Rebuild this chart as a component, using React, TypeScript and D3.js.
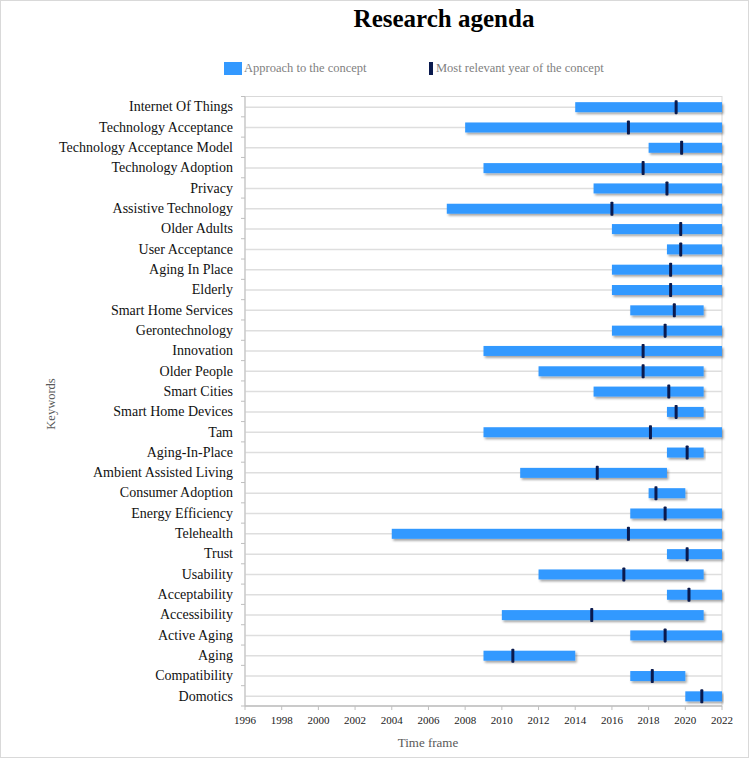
import React from "react";
import * as d3 from "d3";

const keywords = [
  "Internet Of Things", "Technology Acceptance", "Technology Acceptance Model", "Technology Adoption",
  "Privacy", "Assistive Technology", "Older Adults", "User Acceptance", "Aging In Place", "Elderly",
  "Smart Home Services", "Gerontechnology", "Innovation", "Older People", "Smart Cities",
  "Smart Home Devices", "Tam", "Aging-In-Place", "Ambient Assisted Living", "Consumer Adoption",
  "Energy Efficiency", "Telehealth", "Trust", "Usability", "Acceptability", "Accessibility",
  "Active Aging", "Aging", "Compatibility", "Domotics",
];
const startYears = [2014, 2008, 2018, 2009, 2015, 2007, 2016, 2019, 2016, 2016, 2017, 2016, 2009, 2012, 2015, 2019, 2009, 2019, 2011, 2018, 2017, 2004, 2019, 2012, 2019, 2010, 2017, 2009, 2017, 2020];
const endYears = [2022, 2022, 2022, 2022, 2022, 2022, 2022, 2022, 2022, 2022, 2021, 2022, 2022, 2021, 2021, 2021, 2022, 2021, 2019, 2020, 2022, 2022, 2022, 2021, 2022, 2021, 2022, 2014, 2020, 2022];
const relevantYears = [2019.5, 2016.9, 2019.8, 2017.7, 2019.0, 2016.0, 2019.75, 2019.75, 2019.2, 2019.2, 2019.4, 2018.9, 2017.7, 2017.7, 2019.1, 2019.5, 2018.1, 2020.1, 2015.2, 2018.4, 2018.9, 2016.9, 2020.1, 2016.65, 2020.2, 2014.9, 2018.9, 2010.6, 2018.2, 2020.9];
const xTicks = d3.range(1996, 2023, 2);

const W = 750, H = 760;
const M = { left: 245, right: 722, top: 96.5, bottom: 706 };
const SERIF = "'Liberation Serif', 'Times New Roman', serif";

export default function App() {
  const x = d3.scaleLinear().domain([1996, 2022]).range([M.left, M.right]);
  const y = d3.scaleBand<string>().domain(keywords).range([M.top, M.bottom]);
  const bw = y.bandwidth();
  const barH = 10;
  const markH = 14;

  return (
    <svg width={W} height={H} style={{ position: "absolute", left: 0, top: 0, background: "#fff" }} fontFamily={SERIF}>
      <defs>
        <filter id="sh" x="-5%" y="-50%" width="110%" height="220%">
          <feDropShadow dx="1.5" dy="2" stdDeviation="1" floodColor="#000" floodOpacity="0.35" />
        </filter>
      </defs>
      <rect x={0.5} y={0.5} width={W - 2} height={H - 3} fill="#fff" stroke="#d9d9d9" />
      <text x={444} y={27} textAnchor="middle" fontSize={25} fontWeight="bold" fill="#000">Research agenda</text>

      {/* legend */}
      <rect x={224} y={62} width={18} height={13} fill="#3399ff" />
      <text x={244} y={72} fontSize={12.5} fill="#7f7f7f">Approach to the concept</text>
      <rect x={429} y={62} width={4} height={13} fill="#0a1a4e" />
      <text x={436} y={72} fontSize={12.5} fill="#7f7f7f">Most relevant year of the concept</text>

      {/* frame */}
      <rect x={M.left} y={M.top} width={M.right - M.left} height={M.bottom - M.top} fill="none" stroke="#d9d9d9" strokeWidth={1} />

      {/* gridlines */}
      {keywords.map((k) => (
        <line key={"g" + k} x1={M.left} x2={M.right} y1={y(k)! + bw / 2 + 0.5} y2={y(k)! + bw / 2 + 0.5} stroke="#dedede" strokeWidth={1.5} />
      ))}

      {/* y ticks */}
      {d3.range(keywords.length + 1).map((i) => {
        const yy = M.top + i * bw;
        return <line key={"yt" + i} x1={M.left - 4} x2={M.left} y1={yy} y2={yy} stroke="#bfbfbf" />;
      })}
      {/* axes */}
      <line x1={M.left} x2={M.left} y1={M.top} y2={M.bottom} stroke="#bfbfbf" />
      <line x1={M.left} x2={M.right} y1={M.bottom} y2={M.bottom} stroke="#bfbfbf" strokeWidth={1.5} />
      {xTicks.map((t) => (
        <g key={"xt" + t}>
          <line x1={x(t)} x2={x(t)} y1={M.bottom} y2={M.bottom + 4} stroke="#bfbfbf" />
          <text x={x(t)} y={M.bottom + 18} textAnchor="middle" fontSize={11} fill="#222">{t}</text>
        </g>
      ))}

      {/* bars */}
      {keywords.map((k, i) => (
        <rect key={"b" + k} x={x(startYears[i])} y={y(k)! + bw / 2 - barH / 2 + 0.5} width={x(endYears[i]) - x(startYears[i])} height={barH} fill="#3399ff" filter="url(#sh)" />
      ))}
      {/* markers */}
      {keywords.map((k, i) => (
        <rect key={"m" + k} x={x(relevantYears[i]) - 1.5} y={y(k)! + bw / 2 - markH / 2 + 0.5} width={3} height={markH} fill="#0a1a4e" rx={0.8} />
      ))}

      {/* category labels */}
      {keywords.map((k) => (
        <text key={"l" + k} x={233} y={y(k)! + bw / 2 + 4.8} textAnchor="end" fontSize={14} fill="#111">{k}</text>
      ))}

      <text x={428} y={747} textAnchor="middle" fontSize={13} fill="#595959">Time frame</text>
      <text transform={`translate(55,${404}) rotate(-90)`} textAnchor="middle" fontSize={12.5} fill="#595959">Keywords</text>
    </svg>
  );
}
